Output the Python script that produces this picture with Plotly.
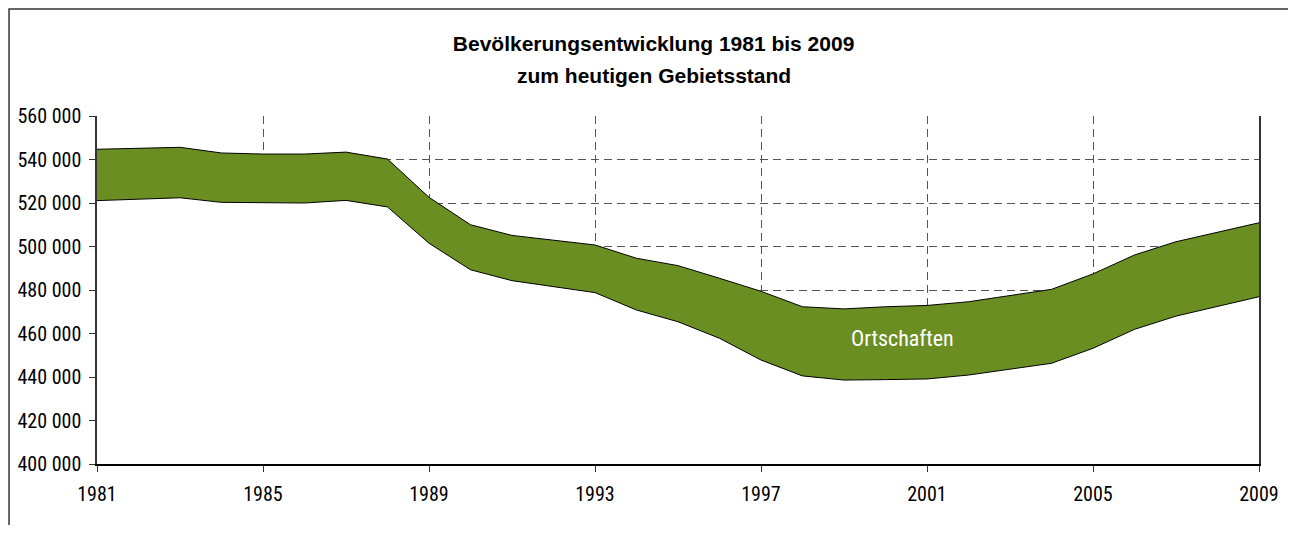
import plotly.graph_objects as go

# Jahre 1981-2009
years = list(range(1981, 2010))

# unterer Teil (Stadtgebiet ohne Ortschaften), Einwohner
basis = [521100, 521700, 522400, 520300, 520000, 520000, 521200, 518200, 501500, 489300,
         484300, 481500, 478800, 470800, 465400, 457800, 447800, 440500, 438600, 438800,
         439100, 440900, 443700, 446300, 453200, 461900, 468000, 472600, 476900]

# Ortschaften, gestapelt oben drauf
ortschaften = [23600, 23400, 23200, 22700, 22500, 22500, 22200, 22000, 21100, 20700,
               20800, 21400, 21900, 23800, 25800, 27600, 31600, 31800, 32700, 33500,
               33800, 33700, 33700, 34000, 34200, 34200, 34200, 33900, 34000]

narrow = "Roboto Condensed, Arial Narrow, sans-serif"
normal = "Liberation Sans, Arial, sans-serif"

fig = go.Figure()
fig.add_trace(go.Scatter(x=years, y=basis, name="Basis", stackgroup="a",
                         mode="lines", line=dict(color="black", width=1),
                         fillcolor="white", showlegend=False))
fig.add_trace(go.Scatter(x=years, y=ortschaften, name="Ortschaften", stackgroup="a",
                         mode="lines", line=dict(color="black", width=1),
                         fillcolor="#6b8e23", showlegend=False))

fig.add_annotation(x=2000.42, y=457500, text="Ortschaften", showarrow=False,
                   font=dict(color="white", size=22, family=narrow))

# zweite Titelzeile
fig.add_annotation(xref="paper", yref="paper", x=0.479, y=1.115, yanchor="middle",
                   text="<b>zum heutigen Gebietsstand</b>", showarrow=False,
                   font=dict(size=21, color="black", family=normal))

# Rahmen um das ganze Diagramm
fig.add_shape(type="rect", xref="paper", yref="paper", x0=-0.0757, x1=1.1, y0=-0.3, y1=1.3075,
              line=dict(color="#333", width=1.5), layer="above")

fig.update_layout(
    width=1280, height=517,
    margin=dict(l=89, r=29, t=108, b=61, autoexpand=False),
    paper_bgcolor="white", plot_bgcolor="white",
    separators=", ",
    title=dict(text="<b>Bevölkerungsentwicklung 1981 bis 2009</b>",
               xref="paper", x=0.479, xanchor="center", y=0.932, yanchor="middle",
               font=dict(size=21, color="black", family=normal)),
    font=dict(family=narrow, size=20, color="black"),
)
fig.update_xaxes(range=[1981, 2009], tick0=1981, dtick=4, showline=True, linecolor="black",
                 linewidth=1.5, ticks="outside", ticklen=6, tickcolor="#333",
                 ticklabelstandoff=5, automargin=False,
                 showgrid=True, gridcolor="#555", griddash="8px,5px", gridwidth=1,
                 zeroline=False)
fig.update_yaxes(range=[400000, 560000], dtick=20000, tickformat=",.0f", showline=True,
                 linecolor="#333", linewidth=1.5, mirror=True, ticks="outside", ticklen=6,
                 tickcolor="#333", ticklabelstandoff=4, automargin=False,
                 showgrid=True, gridcolor="#555", griddash="8px,5px",
                 gridwidth=1, zeroline=False)

fig.write_html("out.html")
